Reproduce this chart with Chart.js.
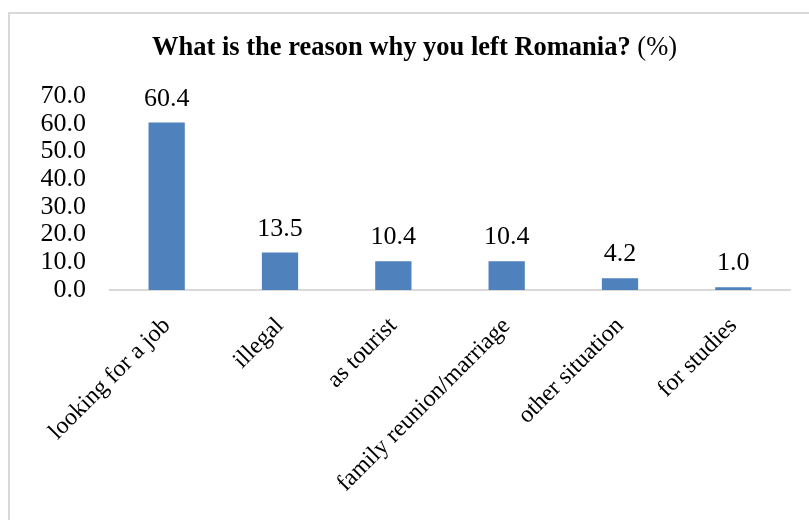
<!DOCTYPE html>
<html lang="en">
<head>
  <meta charset="UTF-8">
  <title>What is the reason why you left Romania?</title>
  <script src="https://cdn.jsdelivr.net/npm/chart.js"></script>
  <style>
    body {
      margin: 0;
      background: #fff;
    }
    .wrap {
      position: relative;
      width: 809px;
      height: 520px;
      overflow: hidden;
    }
    .frame {
      position: absolute;
      left: 8px;
      top: 12px;
      width: 820px;
      height: 540px;
      border-top: 2px solid #d9d9d9;
      border-left: 2px solid #d9d9d9;
      pointer-events: none;
    }
  </style>
</head>
<body>

<div class="wrap">
  <canvas id="reasonChart" width="809" height="520"></canvas>
  <div class="frame"></div>
</div>

<script>
  const categories = [
    "looking for a job",
    "illegal",
    "as tourist",
    "family reunion/marriage",
    "other situation",
    "for studies"
  ];
  const shares = [60.4, 13.5, 10.4, 10.4, 4.2, 1.0];
  const yTicks = [0, 10, 20, 30, 40, 50, 60, 70];

  const SERIF = "'Liberation Serif', 'Times New Roman', serif";

  // title: bold question + normal "(%)"
  const titlePlugin = {
    id: "mixedTitle",
    afterDraw(chart) {
      const ctx = chart.ctx;
      const bold = "What is the reason why you left Romania?";
      const rest = " (%)";
      ctx.save();
      ctx.fillStyle = "#000";
      ctx.textBaseline = "alphabetic";
      ctx.textAlign = "left";
      ctx.font = "bold 26.5px " + SERIF;
      const w1 = ctx.measureText(bold).width;
      ctx.font = "26.5px " + SERIF;
      const w2 = ctx.measureText(rest).width;
      const x0 = 414.5 - (w1 + w2) / 2;
      ctx.font = "bold 26.5px " + SERIF;
      ctx.fillText(bold, x0, 55);
      ctx.font = "26.5px " + SERIF;
      ctx.fillText(rest, x0 + w1, 55);
      ctx.restore();
    }
  };

  // value labels above each bar
  const valuePlugin = {
    id: "barValues",
    afterDatasetsDraw(chart) {
      const ctx = chart.ctx;
      const meta = chart.getDatasetMeta(0);
      ctx.save();
      ctx.font = "26px " + SERIF;
      ctx.fillStyle = "#000";
      ctx.textAlign = "center";
      ctx.textBaseline = "alphabetic";
      meta.data.forEach((bar, i) => {
        ctx.fillText(shares[i].toFixed(1), bar.x, bar.y - 17);
      });
      ctx.restore();
    }
  };

  const ctx = document.getElementById("reasonChart").getContext("2d");
  new Chart(ctx, {
    type: "bar",
    data: {
      labels: categories,
      datasets: [{
        data: shares,
        backgroundColor: "#4f81bd",
        borderWidth: 0,
        categoryPercentage: 1,
        barPercentage: 0.32
      }]
    },
    options: {
      responsive: false,
      animation: false,
      layout: {
        padding: { top: 96, right: 19, bottom: 0, left: 0 }
      },
      plugins: {
        legend: { display: false },
        title: { display: false },
        tooltip: { enabled: false }
      },
      scales: {
        x: {
          grid: { display: false, drawTicks: false },
          border: { display: true, color: "#d9d9d9", width: 2 },
          ticks: {
            color: "#000",
            font: { family: SERIF, size: 24 },
            maxRotation: 45,
            minRotation: 45,
            padding: 22,
            autoSkip: false
          },
          afterFit(scale) {
            scale.height = 230;
          }
        },
        y: {
          min: yTicks[0],
          max: yTicks[yTicks.length - 1],
          grid: { display: false, drawTicks: false },
          border: { display: false },
          afterBuildTicks(scale) {
            scale.ticks = yTicks.map(v => ({ value: v }));
          },
          ticks: {
            color: "#000",
            font: { family: SERIF, size: 26 },
            padding: 24,
            autoSkip: false,
            stepSize: 10,
            callback: v => Number(v).toFixed(1)
          },
          afterFit(scale) {
            scale.width = 110;
          }
        }
      }
    },
    plugins: [titlePlugin, valuePlugin]
  });
</script>

</body>
</html>
